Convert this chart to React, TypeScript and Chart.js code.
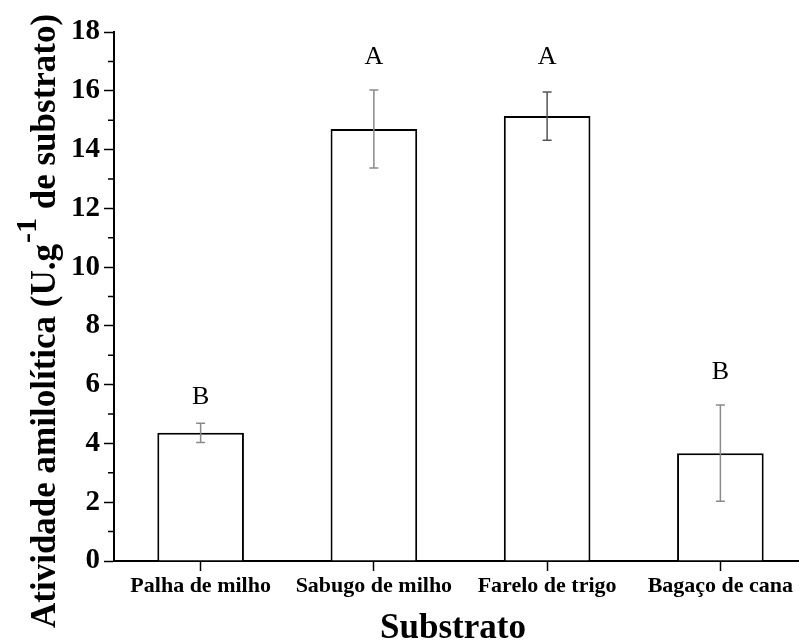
import React, { useEffect, useRef } from 'react';
import { Chart, registerables } from 'chart.js';

Chart.register(...registerables);

const categories = ['Palha de milho', 'Sabugo de milho', 'Farelo de trigo', 'Bagaço de cana'];
const activity = [4.36, 14.7, 15.14, 3.67];
const activityError = [0.33, 1.33, 0.82, 1.64];
const groupLetters = ['B', 'A', 'A', 'B'];
const letterLevels = [5.58, 17.14, 17.14, 6.43];
const yMin = 0;
const yMax = 18;
const yMajorStep = 2;
const yMinorTicks = [1, 3, 5, 7, 9, 11, 13, 15, 17];
const yTitleMain = 'Atividade amilolítica (U.g';
const yTitleSup = '-1';
const yTitleEnd = ' de substrato)';
const xTitle = 'Substrato';

const SERIF = '"Liberation Serif", "Times New Roman", "DejaVu Serif", serif';

const decorPlugin = {
  id: 'decor',
  afterDatasetsDraw(chart: any) {
    const ctx = chart.ctx;
    const xs = chart.scales.x;
    const ys = chart.scales.y;
    ctx.save();
    // error bars
    activity.forEach((v, i) => {
      const x = xs.getPixelForValue(i);
      const top = ys.getPixelForValue(v + activityError[i]);
      const bot = ys.getPixelForValue(v - activityError[i]);
      ctx.strokeStyle = i === 2 ? '#555' : '#8a8a8a';
      ctx.lineWidth = 1.5;
      ctx.beginPath();
      ctx.moveTo(x, top);
      ctx.lineTo(x, bot);
      ctx.moveTo(x - 4.5, top);
      ctx.lineTo(x + 4.5, top);
      ctx.moveTo(x - 4.5, bot);
      ctx.lineTo(x + 4.5, bot);
      ctx.stroke();
    });
    // group letters
    ctx.fillStyle = '#000';
    ctx.font = `normal 26px ${SERIF}`;
    ctx.textAlign = 'center';
    ctx.textBaseline = 'middle';
    groupLetters.forEach((l, i) => {
      ctx.fillText(l, xs.getPixelForValue(i), ys.getPixelForValue(letterLevels[i]));
    });
    ctx.restore();
  },
  afterDraw(chart: any) {
    const ctx = chart.ctx;
    const ys = chart.scales.y;
    const area = chart.chartArea;
    ctx.save();
    // minor ticks on y
    ctx.strokeStyle = '#000';
    ctx.lineWidth = 1.5;
    ctx.beginPath();
    yMinorTicks.forEach((v) => {
      const y = ys.getPixelForValue(v);
      ctx.moveTo(area.left - 6, y);
      ctx.lineTo(area.left, y);
    });
    ctx.stroke();

    // y title with superscript
    ctx.fillStyle = '#000';
    ctx.translate(55, 628);
    ctx.rotate(-Math.PI / 2);
    ctx.textAlign = 'left';
    ctx.textBaseline = 'alphabetic';
    const mainFont = `bold 35px ${SERIF}`;
    const supFont = `bold 30px ${SERIF}`;
    ctx.font = mainFont;
    ctx.fillText(yTitleMain, 0, 0);
    let w = ctx.measureText(yTitleMain).width + 1;
    ctx.font = supFont;
    ctx.fillText(yTitleSup, w, -19);
    w += ctx.measureText(yTitleSup).width;
    ctx.font = mainFont;
    ctx.fillText(yTitleEnd, w, 0);
    ctx.restore();

    // x title
    ctx.save();
    ctx.fillStyle = '#000';
    ctx.font = `bold 35px ${SERIF}`;
    ctx.textAlign = 'center';
    ctx.textBaseline = 'alphabetic';
    ctx.fillText(xTitle, 453, 638);
    ctx.restore();
  },
};

export default function App() {
  const canvasRef = useRef<HTMLCanvasElement | null>(null);

  useEffect(() => {
    const canvas = canvasRef.current;
    if (!canvas) return;
    const chart = new Chart(canvas, {
      type: 'bar',
      data: {
        labels: categories,
        datasets: [
          {
            data: activity,
            backgroundColor: '#ffffff',
            borderColor: '#000000',
            borderWidth: 2,
            barPercentage: 0.5,
            categoryPercentage: 1,
          },
        ],
      },
      options: {
        responsive: false,
        maintainAspectRatio: false,
        animation: false,
        devicePixelRatio: 1,
        layout: { padding: { left: 0, right: 13, top: 32, bottom: 0 } },
        plugins: {
          legend: { display: false },
          tooltip: { enabled: false },
          title: { display: false },
        },
        scales: {
          x: {
            offset: true,
            grid: {
              display: true,
              drawOnChartArea: false,
              drawTicks: true,
              tickLength: 10,
              tickWidth: 1.5,
              tickColor: '#000',
              offset: false,
            },
            border: { display: true, color: '#000', width: 2 },
            ticks: {
              color: '#000',
              font: { family: SERIF, size: 22, weight: 'bold' },
              padding: 2,
              maxRotation: 0,
              autoSkip: false,
            },
            afterFit: (scale: any) => {
              scale.height = 83;
            },
          },
          y: {
            min: yMin,
            max: yMax,
            grid: {
              display: true,
              drawOnChartArea: false,
              drawTicks: true,
              tickLength: 10,
              tickWidth: 1.5,
              tickColor: '#000',
            },
            border: { display: true, color: '#000', width: 2 },
            ticks: {
              stepSize: yMajorStep,
              color: '#000',
              font: { family: SERIF, size: 29, weight: 'bold' },
              padding: 4,
              autoSkip: false,
            },
            afterFit: (scale: any) => {
              scale.width = 114;
            },
          },
        },
      },
      plugins: [decorPlugin],
    });
    return () => chart.destroy();
  }, []);

  return (
    <div
      style={{
        position: 'fixed',
        left: 0,
        top: 0,
        width: 799,
        height: 644,
        overflow: 'hidden',
        background: '#fff',
      }}
    >
      <canvas
        ref={canvasRef}
        width={820}
        height={644}
        style={{ display: 'block', width: 820, height: 644 }}
      />
    </div>
  );
}
